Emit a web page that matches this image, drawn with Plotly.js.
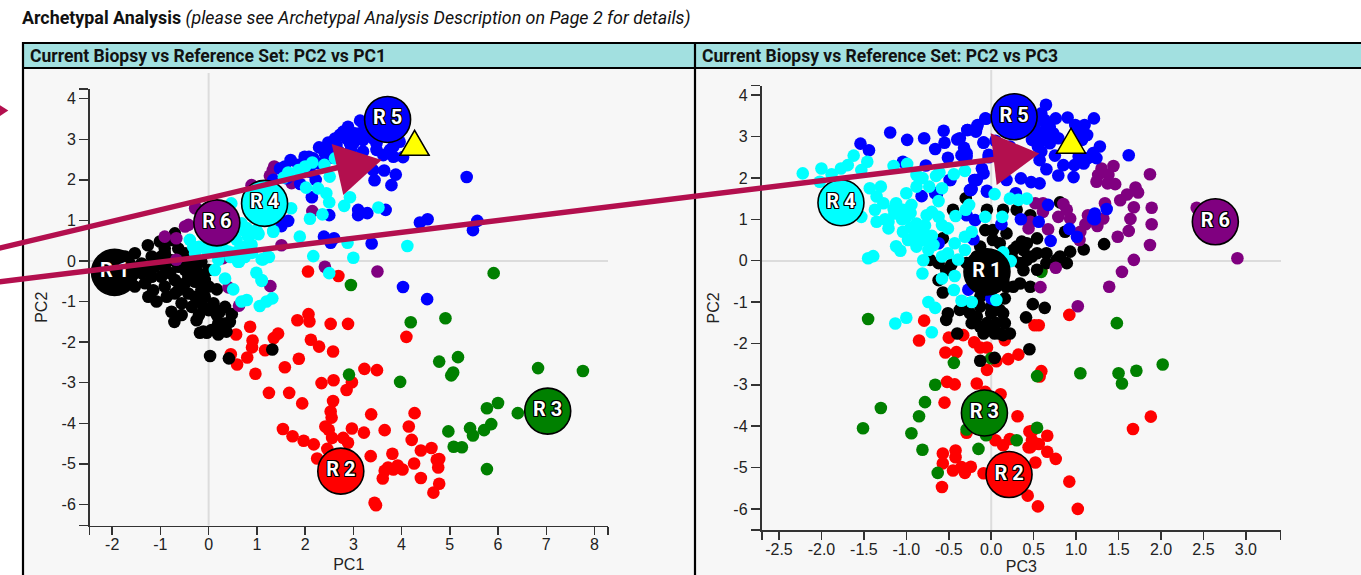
<!DOCTYPE html>
<html><head><meta charset="utf-8">
<script src="https://cdn.plot.ly/plotly-3.0.1.min.js"></script>
<style>html,body{margin:0;padding:0;background:#fff;overflow:hidden}#c{width:1361px;height:575px}</style>
</head><body><div id="c"></div>
<script>
// ---- Left panel: PC1 (x) vs PC2 (y)
const redL_x=[2.07,1.84,2.09,2.53,2.89,4.10,0.86,0.57,1.44,1.35,0.91,0.90,2.12,2.29,2.58,1.17,1.87,0.46,0.59,0.80,1.58,0.97,3.23,3.49,2.59,2.34,2.97,2.86,1.25,1.67,1.94,2.58,2.53,2.55,3.37,4.27,1.54,1.74,1.97,2.18,2.42,2.49,2.56,2.97,3.22,3.65,4.15,4.21,2.79,2.89,2.46,2.25,3.36,3.81,4.40,4.62,4.78,4.73,4.76,4.26,3.92,4.02,3.83,3.65,3.72,3.61,4.40,4.78,4.66,3.44,3.47,2.06,2.69];
const redL_y=[-1.31,-1.46,-1.49,-1.55,-1.55,-1.87,-1.62,-1.81,-1.79,-1.90,-1.96,-2.13,-1.94,-2.11,-2.23,-2.20,-2.41,-2.30,-2.55,-2.38,-2.62,-2.78,-2.66,-2.69,-2.94,-3.01,-2.99,-3.18,-3.25,-3.25,-3.51,-3.45,-3.71,-3.86,-3.78,-3.75,-4.14,-4.32,-4.43,-4.52,-4.08,-4.16,-4.36,-4.13,-4.23,-4.17,-4.08,-4.41,-4.36,-4.48,-4.63,-4.87,-4.81,-4.75,-4.67,-4.61,-4.88,-4.90,-5.09,-4.99,-5.04,-5.14,-5.14,-5.17,-5.09,-5.36,-5.35,-5.49,-5.71,-5.96,-6.02,-0.26,-0.37];
const greenL_x=[2.95,4.19,4.91,4.78,5.17,5.07,5.03,3.97,2.91,4.97,5.08,5.91,6.83,7.76,6.00,5.77,6.41,5.42,5.86,5.71,5.25,5.77,5.48];
const greenL_y=[-0.59,-1.51,-1.41,-2.48,-2.37,-2.75,-2.82,-2.98,-2.80,-4.20,-4.58,-0.30,-2.64,-2.71,-3.50,-3.63,-3.75,-4.12,-4.02,-4.17,-4.59,-5.13,-4.30];
const blackL_x=[-1.26,-1.01,-0.70,-1.53,-1.73,-1.39,-1.18,-0.91,-0.63,-1.32,-1.18,-1.32,-1.25,-1.08,-0.87,-0.91,-0.70,-0.70,-0.56,-0.77,-0.71,-0.56,-0.49,-0.35,-0.21,-0.49,-0.15,-0.28,-0.08,0.17,0.10,-0.11,-0.25,-0.18,-0.04,0.20,0.37,0.17,0.34,0.48,0.32,0.23,-0.28,-0.08,-0.91,-1.11,-0.77,-0.49,-0.15,0.03,0.42,1.32,0.82,-1.67,-1.53,-1.53,-1.39,-1.15,-0.98,-0.80,-0.63,-0.42,-0.28,0.00,0.00,-0.42,-0.91,-0.49,-0.28,-0.77,-0.98,-0.63,-0.35,-0.18,0.20,0.44,0.00,-0.20,-0.11,0.06];
const blackL_y=[0.39,0.48,0.68,0.19,0.11,-0.06,0.11,0.19,0.31,-0.22,-0.39,-0.55,-0.88,-1.00,-0.88,-0.63,-0.47,-0.80,-1.04,-1.25,-1.50,-1.33,-0.22,-0.06,-0.30,-0.55,-0.71,-0.88,-0.88,-0.70,-1.04,-1.13,-1.46,-1.77,-1.77,-1.81,-1.74,-1.33,-1.13,-1.31,-1.54,-1.25,-0.51,-0.47,-0.14,-0.14,0.02,0.02,-0.02,-2.34,-2.40,-2.18,0.64,-0.14,-0.30,-0.63,-0.30,-0.72,-0.39,-0.30,-0.14,-0.39,-0.22,-0.22,-0.63,-0.80,0.31,0.19,0.11,0.52,0.11,-0.72,-1.13,-0.96,-1.54,-1.50,-1.21,-1.33,-1.74,-1.70];
const purpleL_x=[-0.91,-0.67,-0.42,-0.67,0.30,0.41,1.28,0.63,1.51,-0.28,1.36,1.27,0.89,2.15,2.41,3.50,1.72,-0.49,-0.25,0.92,1.33];
const purpleL_y=[0.60,0.56,0.89,0.03,0.07,-0.65,-0.62,-1.10,0.39,1.30,2.33,2.10,1.87,1.23,-0.14,-0.26,1.92,0.85,1.30,1.83,2.24];
const blueL_x=[3.14,2.89,2.72,2.86,3.03,3.20,2.48,2.29,2.62,2.51,3.62,3.83,4.03,3.48,3.96,3.41,3.64,3.88,3.44,3.79,3.41,1.70,2.08,1.48,2.17,2.27,1.86,2.10,2.22,1.90,1.62,1.34,2.14,3.10,3.10,3.29,3.67,2.50,1.65,1.51,4.38,4.54,2.39,2.60,2.53,3.38,5.35,5.57,5.48,4.03,4.53,2.95,3.10,2.90,3.20,3.00,2.70,2.55,2.79,2.93,3.14,3.20,2.65,2.41,3.34,3.48,3.83,3.76,1.99,1.58];
const blueL_y=[3.46,3.31,3.11,3.02,3.15,2.98,2.92,2.80,3.02,2.74,2.61,2.57,2.56,2.74,2.94,3.02,2.23,2.13,1.99,1.87,2.24,2.49,2.57,2.28,2.53,2.41,2.37,2.20,2.00,1.90,2.04,2.00,1.57,1.26,1.13,1.18,1.26,1.13,0.99,0.86,0.95,1.03,0.60,0.56,0.45,0.43,2.07,0.99,0.76,-0.64,-0.94,2.75,2.55,2.50,2.70,2.90,2.70,2.55,3.19,2.90,3.15,3.40,2.86,2.65,3.15,2.90,2.82,2.74,2.57,2.33];
const cyanL_x=[2.40,2.15,2.00,1.86,1.65,1.56,2.51,2.62,2.27,2.44,2.02,2.50,2.93,2.81,3.52,2.36,2.10,1.71,1.34,1.03,1.89,2.88,2.17,3.00,4.12,1.13,1.25,0.75,0.63,0.99,2.50,1.10,0.72,0.75,0.54,-0.39,-0.32,-0.04,0.20,0.13,0.34,0.51,0.79,0.68,1.06,1.20,1.32,1.10,1.22,1.10,0.75,0.61,0.41,0.58,0.79,1.03,1.34,0.47,0.20,0.16,-0.28,0.68,0.82,0.99,0.89,0.30,0.45,0.05,-0.20,0.00,0.50,0.65,0.90];
const cyanL_y=[2.37,2.43,2.33,2.24,2.18,2.06,2.08,2.53,1.79,1.67,1.81,1.45,1.57,1.36,1.32,1.15,1.04,1.30,0.74,0.66,0.60,0.45,0.12,0.08,0.37,0.04,0.10,0.10,-0.02,-0.29,-0.30,-0.47,0.76,0.35,0.19,0.52,0.35,0.27,0.03,-0.22,-0.43,-0.70,-0.96,-1.00,-1.11,-1.00,-0.92,-0.49,0.11,0.04,0.15,-0.02,0.23,0.52,0.81,0.68,0.72,1.42,0.31,0.19,0.19,0.93,0.60,0.76,0.40,0.30,0.10,0.35,0.35,0.40,0.20,0.30,0.20];
const archL_x=[-1.95,2.74,7.03,1.16,3.71,0.17];
const archL_y=[-0.28,-5.18,-3.70,1.42,3.49,0.94];
const biopsyL_x=[4.27];
const biopsyL_y=[2.76];

// ---- Right panel: PC3 (x) vs PC2 (y)
const redR_x=[-0.79,-0.85,-0.50,-0.33,-0.20,-0.13,-0.05,0.16,-0.54,-0.41,0.20,0.32,0.06,-0.05,-0.52,-0.43,-0.17,-0.07,0.11,-0.55,0.31,-0.29,0.05,0.14,0.22,0.45,0.44,-0.57,-0.57,-0.42,-0.42,-0.24,-0.35,-0.45,-0.31,-0.58,-0.09,0.43,0.92,0.51,0.56,0.59,0.57,0.48,0.66,0.56,0.48,0.46,0.66,0.76,0.52,0.92,0.55,1.02,1.67,1.88,0.59];
const redR_y=[-1.45,-1.93,-1.86,-1.80,-1.97,-2.10,-2.10,-1.92,-2.22,-2.21,-2.38,-2.27,-2.43,-2.64,-2.93,-2.99,-2.97,-3.17,-3.23,-3.43,-3.76,-4.16,-4.34,-4.46,-4.31,-4.13,-4.51,-4.66,-4.90,-4.59,-4.75,-4.98,-4.99,-5.07,-5.13,-5.47,-5.14,-5.68,-1.31,-1.56,-1.56,-2.67,-2.80,-4.12,-4.23,-4.43,-4.34,-4.51,-4.62,-4.79,-4.88,-5.34,-5.94,-6.00,-4.07,-3.77,-0.25];
const greenR_x=[-1.45,-0.44,-0.66,-0.78,-1.30,-1.51,-0.85,-0.94,-0.81,-0.15,-0.63,0.00,-0.29,-0.06,0.30,0.54,0.54,1.05,1.48,1.50,1.54,1.71,2.02,0.59];
const greenR_y=[-1.41,-2.47,-3.00,-3.42,-3.56,-4.05,-3.76,-4.17,-4.57,-4.55,-5.13,-2.36,-4.08,-4.22,-4.34,-4.04,-2.79,-2.72,-1.51,-2.72,-2.97,-2.66,-2.51,-0.27];
const blackR_x=[-0.30,-0.45,-0.05,0.14,0.30,0.46,0.81,0.87,-0.07,0.02,-0.13,0.10,0.36,0.54,0.26,0.38,0.48,0.65,0.77,0.89,0.93,1.09,-0.13,0.02,-0.21,-0.05,0.14,0.34,0.46,0.54,0.34,-0.29,-0.17,0.02,-0.62,-0.72,-0.57,-0.62,-0.57,-0.51,-0.53,-0.37,-0.25,-0.13,0.00,0.14,0.06,-0.23,-0.09,0.04,0.22,0.14,0.16,-0.40,0.16,0.49,0.63,0.41,0.45,-0.13,0.04,1.33,0.02,0.18,0.30,0.42,0.26,0.38,0.42,0.54,0.65,0.81,0.18,0.26,0.00,-0.13,0.00,0.10,-0.17,-0.05,0.02,-0.13,0.10,-0.33,-0.25,-0.53,-0.47];
const blackR_y=[1.51,1.23,1.23,1.23,1.23,1.10,1.41,0.70,0.74,0.50,0.34,0.42,0.46,0.54,0.26,0.26,0.10,0.18,0.02,-0.06,0.22,0.27,-0.23,-0.14,-0.55,-0.55,-0.47,-0.55,-0.63,-0.22,-0.06,-0.06,0.10,0.10,-0.06,0.02,0.54,-0.47,-0.77,-1.27,-1.43,-1.19,-1.27,-1.11,-1.27,-1.27,-1.51,-1.51,-1.76,-1.76,-1.76,-1.80,-1.51,-1.76,-0.91,-1.05,-1.14,-1.37,-2.14,-2.42,-2.35,0.40,0.74,0.66,0.34,0.42,0.02,-0.23,0.02,0.18,-0.06,0.10,-0.63,-0.63,-0.87,-0.87,-1.11,-1.19,-1.35,-1.51,-1.60,-1.60,-1.76,-1.11,-1.03,-0.23,-0.10];
const purpleR_x=[1.44,1.30,1.26,1.24,1.38,1.46,1.37,1.87,1.70,1.73,1.60,1.52,1.68,1.89,1.89,1.64,1.62,1.49,1.87,1.68,1.54,1.39,2.90,2.42,1.34,1.32,1.25,1.14,1.11,1.05,1.04,0.93,0.85,0.89,0.79,0.61,0.52,0.61,0.67,0.44,0.46,0.76,0.58,1.02];
const purpleR_y=[2.29,2.23,2.07,1.91,2.07,1.85,1.87,2.09,1.77,1.65,1.60,1.46,1.29,1.28,0.88,1.01,0.72,0.58,0.38,0.02,-0.27,-0.63,0.06,1.28,1.39,1.02,0.84,1.10,0.88,0.70,0.50,1.02,1.37,1.23,1.06,1.39,1.39,1.18,0.76,0.78,0.94,-0.17,-0.64,-1.10];
const blueR_x=[0.645,0.76,0.90,1.21,1.10,1.03,1.13,1.07,1.28,1.20,1.24,1.62,1.09,0.98,0.97,0.79,0.85,0.65,0.75,0.63,0.69,0.67,0.61,0.69,0.55,0.79,0.57,0.52,0.53,-0.07,-0.16,-0.28,-0.18,-0.09,-0.37,-0.29,-0.35,-0.03,-0.11,-0.09,-0.20,-0.23,-0.05,0.18,0.35,0.47,0.57,0.29,0.22,0.05,0.15,0.30,-1.19,-1.54,-1.44,-0.99,-0.79,-0.56,-0.40,-0.66,-0.55,-0.32,-0.28,-0.17,-0.06,-0.09,-0.51,-0.29,-0.03,-1.04,-0.77,-0.19,-0.24,-0.48,-0.05,-0.82,-0.64,-0.29,-0.19,0.12,0.35,-0.62,-0.21,0.56,0.67,0.70,0.92,1.01,1.20,-0.66,-0.49,-0.17,-0.25,1.22,1.22,1.36,-0.27,0.00,0.05,0.59,0.73,0.57,0.48,0.65,0.59,1.03,0.99,1.03,1.14];
const blueR_y=[3.77,3.44,3.46,3.44,3.28,3.20,3.04,2.92,2.76,2.60,2.48,2.55,2.35,2.31,2.02,2.06,2.31,2.21,2.54,3.40,3.24,3.08,2.92,2.84,2.76,2.96,2.43,3.16,3.36,3.44,3.28,3.16,3.12,2.86,2.96,2.60,2.55,2.56,2.23,2.11,1.95,1.73,1.69,1.95,1.99,1.90,1.87,1.63,2.76,2.90,2.60,2.50,3.10,2.83,2.67,2.92,2.96,3.14,2.93,2.70,2.85,2.73,3.16,3.22,3.43,2.85,2.49,2.51,2.50,2.39,2.30,1.95,1.71,1.95,1.67,1.56,1.60,1.10,0.98,0.88,1.00,0.42,0.52,0.94,1.35,0.48,0.77,0.58,1.02,1.63,1.95,1.95,1.71,1.14,1.00,1.25,-0.70,-0.91,-0.95,3.56,3.08,3.08,2.92,3.24,2.64,3.08,3.28,2.52,2.48];
const cyanR_x=[-2.22,-2.00,-1.88,-1.77,-1.69,-1.62,-1.46,-1.53,-2.02,-1.43,-1.30,-1.35,-1.27,-1.37,-1.35,-1.21,-1.21,-1.14,-1.12,-1.00,-0.94,-1.04,-1.00,-0.88,-1.04,-1.12,-1.07,-0.98,-0.88,-0.80,-0.74,-0.68,-0.80,-1.45,-1.39,-0.81,-0.58,-0.43,-1.53,-1.15,-0.99,-0.88,-0.81,-0.88,-0.73,-0.58,-0.65,-0.61,-0.44,-0.31,-0.62,-0.70,-0.76,-0.62,-0.58,-0.51,-0.42,-0.26,-0.30,-0.23,-0.31,-0.43,-0.31,-0.39,-0.51,-0.58,-0.07,0.04,0.13,0.22,0.32,0.42,0.14,0.23,-0.74,-0.66,-1.00,-1.13,-0.70,-0.44,-0.35,-0.23,0.06,-1.05,-0.95,-0.85,-0.95,-0.78,-0.90,-0.70,-0.80,-1.15,-1.25];
const cyanR_y=[2.11,2.23,2.09,2.23,2.31,2.54,2.39,2.19,1.91,1.75,1.79,1.55,1.39,1.23,0.94,0.94,0.78,1.14,1.39,1.63,1.35,1.23,1.06,0.90,0.70,0.35,0.24,0.50,0.34,0.50,0.26,0.38,0.01,0.06,0.11,-0.31,-0.43,-0.37,1.06,2.29,2.34,2.07,2.00,1.79,1.79,1.75,2.05,2.13,2.09,2.17,1.44,1.18,1.10,1.06,0.86,0.78,1.08,1.35,1.23,0.70,0.58,0.42,0.26,0.03,0.18,0.10,1.06,1.61,1.06,1.50,1.47,1.50,0.20,-0.01,-1.00,-1.14,-1.38,-1.52,-1.73,-0.71,-0.97,-1.00,-0.95,1.00,1.15,0.70,0.80,0.85,0.60,0.60,0.70,1.25,1.00];
const archR_x=[-0.05,0.21,-0.08,-1.77,0.27,2.64];
const archR_y=[-0.27,-5.17,-3.68,1.40,3.48,0.94];
const biopsyR_x=[0.94];
const biopsyR_y=[2.75];

// ---- Shared labels and ticks
const archLabels=['R 1','R 2','R 3','R 4','R 5','R 6'];
const archColors=['#000000','#ff0000','#008000','#00ffff','#0000ff','#800080'];
const ticksPC1=[-2,-1,0,1,2,3,4,5,6,7,8];
const ticksPC3=[-2.5,-2,-1.5,-1,-0.5,0,0.5,1,1.5,2,2.5,3];
const labelsPC3=['-2.5','-2.0','-1.5','-1.0','-0.5','0.0','0.5','1.0','1.5','2.0','2.5','3.0'];
const ticksPC2=[-6,-5,-4,-3,-2,-1,0,1,2,3,4];
const headerTexts=['Current Biopsy vs Reference Set: PC2 vs PC1','Current Biopsy vs Reference Set: PC2 vs PC3'];

// ---- Page geometry helpers (pixels to paper fractions)
const W=1361,H=575;
const fx=p=>p/W, fy=p=>1-p/H;
const DOT=12.6;
const maroon='#b30f4e';
const rangeL={x:[-2.47,8.28],y:[-6.52,4.24]};
const rangeR={x:[-2.7,3.41],y:[-6.51,4.23]};
const lab=(v)=>String(v);

function dots(x,y,color,xa,ya){return {type:'scatter',mode:'markers',x,y,xaxis:xa,yaxis:ya,hoverinfo:'skip',cliponaxis:false,
  marker:{size:DOT,color,line:{width:0}}};}
function badges(x,y,xa,ya){return {type:'scatter',mode:'markers+text',x,y,text:archLabels,textposition:'middle center',xaxis:xa,yaxis:ya,cliponaxis:false,hoverinfo:'skip',
  textfont:{family:'Roboto, sans-serif',size:20,weight:700,color:'#ffffff',shadow:'1px 0 0 #000,-1px 0 0 #000,0 1px 0 #000,0 -1px 0 #000,1px 1px 0 #000,-1px -1px 0 #000,1px -1px 0 #000,-1px 1px 0 #000'},
  marker:{size:46,color:archColors,line:{width:1.6,color:'#000'}}};}
function tri(x,y,xa,ya){return {type:'scatter',mode:'markers',x,y,xaxis:xa,yaxis:ya,cliponaxis:false,hoverinfo:'skip',
  marker:{symbol:'triangle-up',size:25,color:'#ffff00',line:{width:1.5,color:'#000'}}};}

const data=[
 dots(redL_x,redL_y,'#ff0000','x','y'),dots(greenL_x,greenL_y,'#008000','x','y'),dots(blackL_x,blackL_y,'#000000','x','y'),
 dots(purpleL_x,purpleL_y,'#800080','x','y'),dots(blueL_x,blueL_y,'#0000ff','x','y'),dots(cyanL_x,cyanL_y,'#00ffff','x','y'),
 badges(archL_x,archL_y,'x','y'),tri(biopsyL_x,biopsyL_y,'x','y'),
 dots(redR_x,redR_y,'#ff0000','x2','y2'),dots(greenR_x,greenR_y,'#008000','x2','y2'),dots(blackR_x,blackR_y,'#000000','x2','y2'),
 dots(purpleR_x,purpleR_y,'#800080','x2','y2'),dots(blueR_x,blueR_y,'#0000ff','x2','y2'),dots(cyanR_x,cyanR_y,'#00ffff','x2','y2'),
 badges(archR_x,archR_y,'x2','y2'),tri(biopsyR_x,biopsyR_y,'x2','y2')
];

const tickFont={family:'"Liberation Sans", Arial, sans-serif',size:16,color:'#222'};
function xax(dom,range,vals,labels,title,anchor,standoff){return {domain:dom,range,anchor,tickmode:'array',
  tickvals:[range[0],...vals,range[1]],ticktext:['',...labels,''],ticks:'outside',ticklen:8,tickwidth:1.5,tickcolor:'#333',ticklabelstandoff:-4,
  showline:true,linecolor:'#333',linewidth:1.5,showgrid:false,zeroline:false,tickfont:tickFont,
  title:{text:title,font:tickFont,standoff},fixedrange:true};}
function yax(dom,range,anchor,standoff,lw){const vals=ticksPC2;return {domain:dom,range,anchor,tickmode:'array',
  tickvals:[range[0],...vals,range[1]],ticktext:['',...vals.map(lab),''],ticks:'outside',ticklen:9,tickwidth:1.5,tickcolor:'#333',
  showline:true,linecolor:'#333',linewidth:lw,showgrid:false,zeroline:true,zerolinecolor:'#dcdcdc',zerolinewidth:2,tickfont:tickFont,
  title:{text:'PC2',font:tickFont,standoff},fixedrange:true};}

const rect=(x0,y0,x1,y1,fill,layer)=>({type:'rect',xref:'paper',yref:'paper',x0:fx(x0),x1:fx(x1),y0:fy(y1),y1:fy(y0),fillcolor:fill,line:{width:0},layer:layer||'below'});
const hline=(x0,x1,y,w,c,layer)=>({type:'line',xref:'paper',yref:'paper',x0:fx(x0),x1:fx(x1),y0:fy(y),y1:fy(y),line:{color:c,width:w},layer:layer||'below'});
const vline=(x,y0,y1,w,c,layer)=>({type:'line',xref:'paper',yref:'paper',x0:fx(x),x1:fx(x),y0:fy(y0),y1:fy(y1),line:{color:c,width:w},layer:layer||'below'});
const poly=(pts,c)=>({type:'path',xref:'paper',yref:'paper',layer:'above',fillcolor:c,line:{width:0},
  path:'M'+pts.map(p=>fx(p[0])+','+fy(p[1])).join(' L')+' Z'});
const seg=(a,b,w,c)=>({type:'line',xref:'paper',yref:'paper',layer:'above',x0:fx(a[0]),y0:fy(a[1]),x1:fx(b[0]),y1:fy(b[1]),line:{color:c,width:w}});
// Taller, equilateral biopsy marker pinned to its data point
const triShape=(xr,yr,x,y)=>({type:'path',xref:xr,yref:yr,xsizemode:'pixel',ysizemode:'pixel',xanchor:x,yanchor:y,layer:'above',
  fillcolor:'#ffff00',line:{color:'#000',width:1.5},path:'M-14.5,-6.3 L14.5,-6.3 L0,18.7 Z'});

const shapes=[
 rect(22,43,1361,575,'#f7f7f7'),
 rect(23,43,1361,68,'#a2e0e0'),
 hline(22,1361,43,2.2,'#000'),hline(22,1361,68,2.2,'#000'),
 vline(23,42,575,2.2,'#000'),vline(695,42,575,2.2,'#000'),
 {type:'line',xref:'x',yref:'paper',x0:0,x1:0,y0:fy(525.5),y1:fy(73),line:{color:'#dcdcdc',width:2},layer:'below'},
 {type:'line',xref:'x2',yref:'paper',x0:0,x1:0,y0:fy(530),y1:fy(70),line:{color:'#dcdcdc',width:2},layer:'below'},
 triShape('x','y',biopsyL_x[0],biopsyL_y[0]),
 triShape('x2','y2',biopsyR_x[0],biopsyR_y[0]),
 seg([-5,249.2],[340,167],5.5,maroon),
 poly([[331.7,144],[343.3,195],[381.7,160]],maroon),
 seg([-5,282.4],[998,159],5.5,maroon),
 poly([[990.7,133.3],[996.7,185],[1039.3,153.6]],maroon),
 poly([[0,105.3],[8.3,110.5],[0,116]],maroon)
];

const annotations=[
 {xref:'paper',yref:'paper',x:fx(20),y:fy(18),xanchor:'left',yanchor:'middle',showarrow:false,
  font:{family:'Roboto, sans-serif',size:17.85,color:'#111'},
  text:'<b>Archetypal Analysis</b> <i>(please see Archetypal Analysis Description on Page 2 for details)</i>'},
 {xref:'paper',yref:'paper',x:fx(27.5),y:fy(55.5),xanchor:'left',yanchor:'middle',showarrow:false,
  font:{family:'Roboto, sans-serif',size:17.55,weight:700,color:'#111'},text:'<b>'+headerTexts[0]+'</b>'},
 {xref:'paper',yref:'paper',x:fx(699.5),y:fy(55.5),xanchor:'left',yanchor:'middle',showarrow:false,
  font:{family:'Roboto, sans-serif',size:17.55,weight:700,color:'#111'},text:'<b>'+headerTexts[1]+'</b>'}
];

const layout={width:W,height:H,margin:{l:0,r:0,t:0,b:0,pad:0},paper_bgcolor:'#ffffff',plot_bgcolor:'rgba(0,0,0,0)',showlegend:false,
 xaxis:xax([fx(89.5),fx(608)],rangeL.x,ticksPC1,ticksPC1.map(lab),'PC1','y',6),
 yaxis:yax([fy(525.5),fy(89)],rangeL.y,'x',10,1.5),
 xaxis2:xax([fx(762),fx(1280.7)],rangeR.x,ticksPC3,labelsPC3,'PC3','y2',6),
 yaxis2:yax([fy(530),fy(85.7)],rangeR.y,'x2',10,2.2),
 shapes,annotations,hovermode:false};
Plotly.newPlot('c',data,layout,{staticPlot:true,displayModeBar:false});
</script></body></html>
